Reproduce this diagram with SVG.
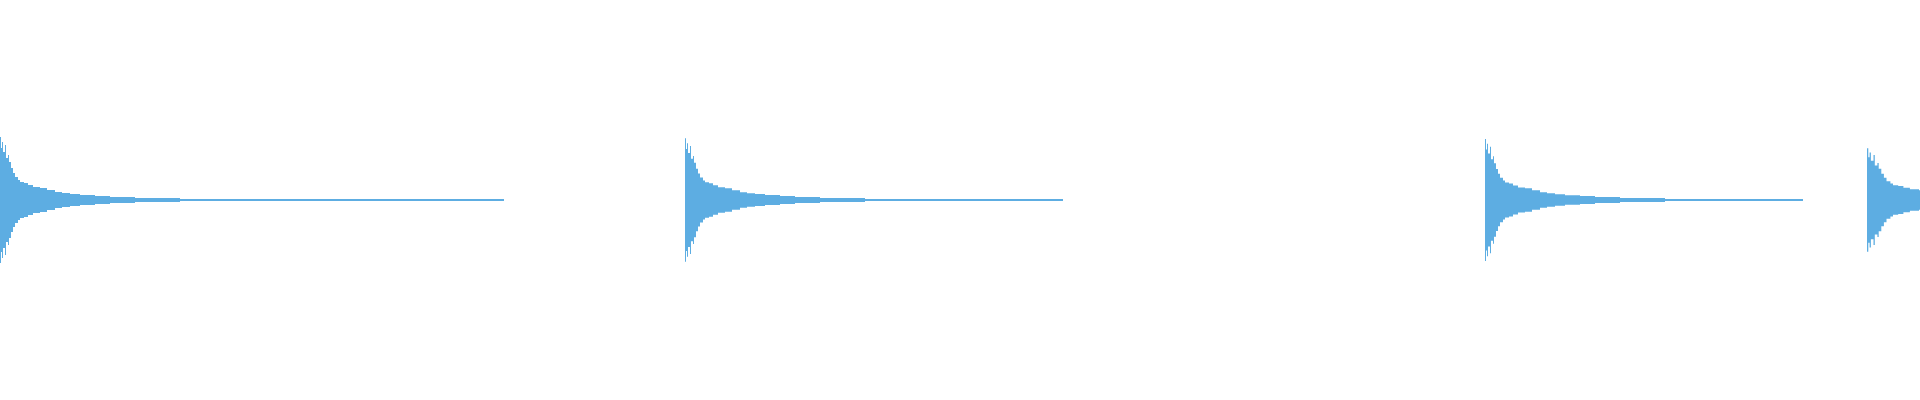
<svg xmlns="http://www.w3.org/2000/svg" width="1920" height="400" viewBox="0 0 1920 400">
<style>.w{fill:#5DADE2;stroke:none}</style>
<rect width="1920" height="400" fill="#fff"/>
<defs>
<path id="head" d="M0,-3 L0,-63 L1,-63 L1,-52 L2,-52 L2,-58 L3,-58 L3,-48 L5,-48 L5,-55 L6,-55 L6,-42 L8,-42 L8,-45 L9,-45 L9,-38 L11,-38 L11,-32 L13,-32 L13,-27 L15,-27 L15,-23 L18,-23 L18,-20 L20,-20 L20,-18 L24,-18 L24,-17 L28,-17 L28,-15 L33,-15 L33,-13 L40,-13 L40,-12 L47,-12 L47,-10 L55,-10 L55,-8 L62,-8 L62,-7 L70,-7 L70,-6 L80,-6 L80,-5 L95,-5 L95,-4 L110,-4 L110,-3 L135,-3 L135,-2 L180,-2 L180,2 L135,2 L135,3 L110,3 L110,4 L95,4 L95,5 L80,5 L80,6 L70,6 L70,7 L62,7 L62,8 L55,8 L55,10 L47,10 L47,12 L40,12 L40,13 L33,13 L33,15 L28,15 L28,17 L24,17 L24,18 L20,18 L20,20 L18,20 L18,23 L15,23 L15,27 L13,27 L13,32 L11,32 L11,38 L9,38 L9,45 L8,45 L8,42 L6,42 L6,55 L5,55 L5,48 L3,48 L3,58 L2,58 L2,52 L1,52 L1,63 L0,63 Z"/>
</defs>
<g id="burst1" class="w">
<use href="#head" transform="translate(0,200)"/>
<rect x="170" y="199" width="334" height="2"/>
</g>
<g id="burst2" class="w">
<use href="#head" transform="translate(685,200) scale(1,0.98)"/>
<rect x="855" y="199" width="208" height="2"/>
</g>
<g id="burst3" class="w">
<use href="#head" transform="translate(1485,200) scale(1,0.97)"/>
<rect x="1654" y="199" width="149" height="2"/>
</g>
<g id="burst4" class="w">
<use href="#head" transform="translate(1867,200) scale(1.3,0.82)"/>
</g>
</svg>
